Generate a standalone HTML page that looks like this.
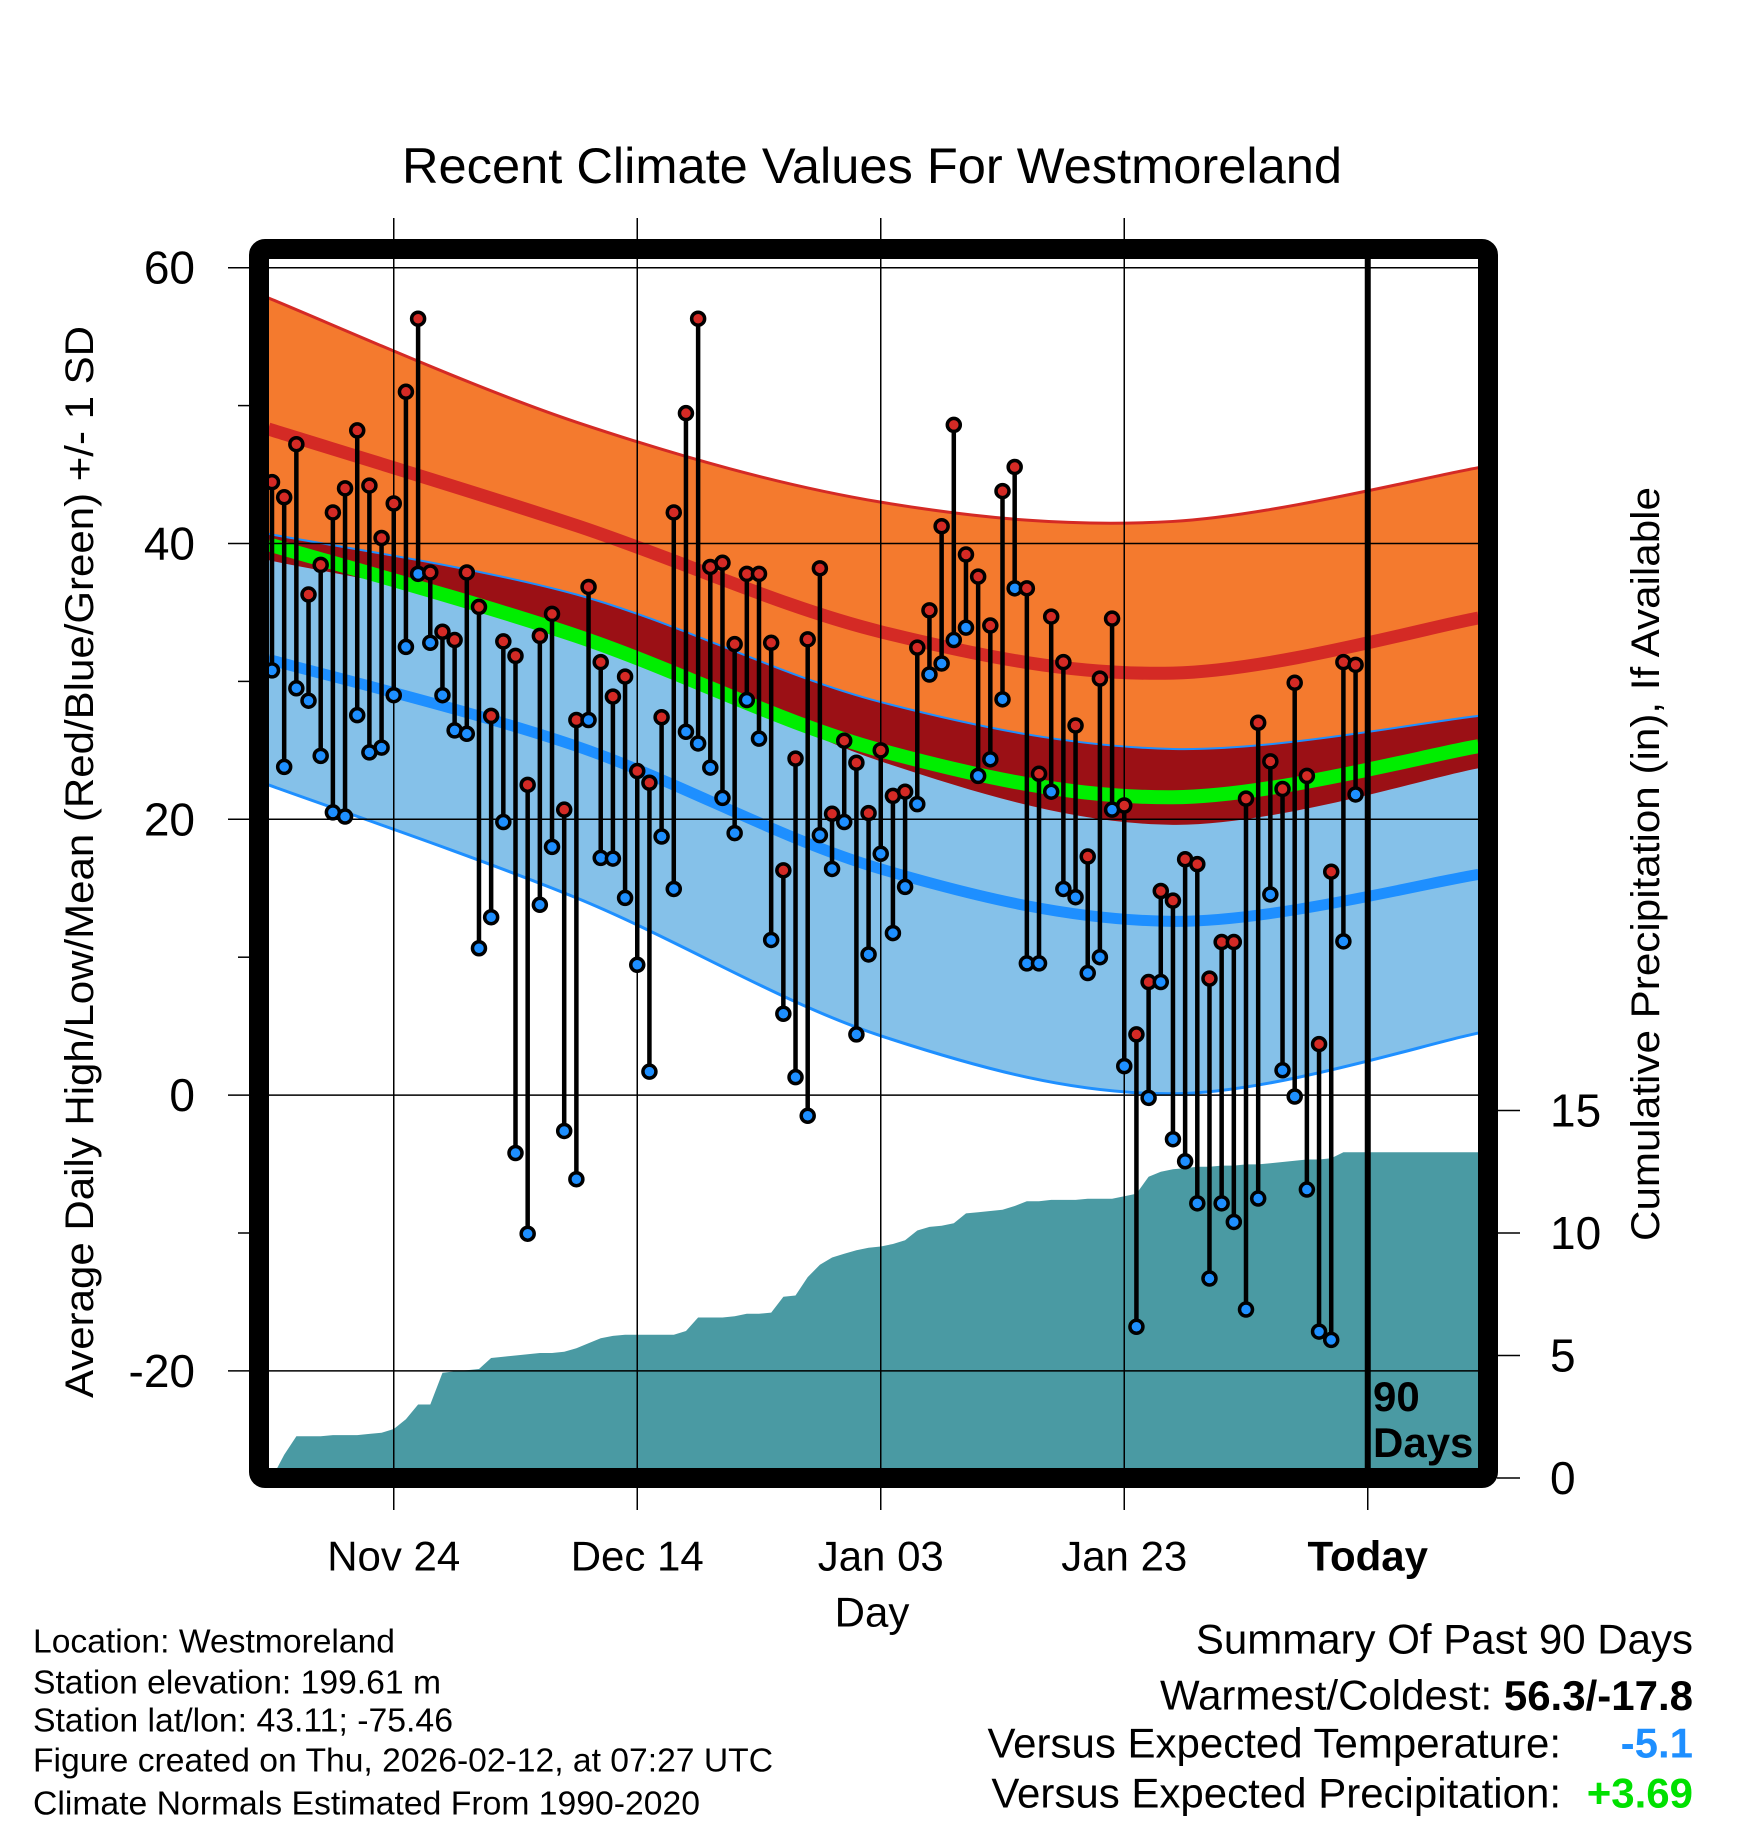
<!DOCTYPE html>
<html><head><meta charset="utf-8"><style>
html,body{margin:0;padding:0;background:#fff}
svg{display:block;font-family:"Liberation Sans",Arial,sans-serif}
</style></head><body>
<svg id="chart" width="1748" height="1828" viewBox="0 0 1748 1828" xmlns="http://www.w3.org/2000/svg">
<defs><clipPath id="plotclip"><rect x="269" y="259" width="1209" height="1209"/></clipPath></defs>
<g id="bands" clip-path="url(#plotclip)"></g>
<g id="precip" clip-path="url(#plotclip)"></g>
<g id="grid"></g>
<g id="marks"></g>
<rect x="259" y="249" width="1229" height="1229" fill="none" stroke="#000" stroke-width="20" rx="6"/>
<g font-weight="bold" font-size="42">
<text x="1373" y="1411">90</text><text x="1373" y="1457">Days</text></g>
<text x="872" y="166" font-size="50" text-anchor="middle" dominant-baseline="central" textLength="940" lengthAdjust="spacingAndGlyphs">Recent Climate Values For Westmoreland</text>
<g id="axes"></g>
<text transform="translate(80,862) rotate(-90)" font-size="40" text-anchor="middle" dominant-baseline="central" textLength="1072" lengthAdjust="spacingAndGlyphs">Average Daily High/Low/Mean (Red/Blue/Green) +/- 1 SD</text>
<text transform="translate(1646,864) rotate(-90)" font-size="40" text-anchor="middle" dominant-baseline="central" textLength="754" lengthAdjust="spacingAndGlyphs">Cumulative Precipitation (in), If Available</text>
<text x="872" y="1612" font-size="42" text-anchor="middle" dominant-baseline="central">Day</text>
<g font-size="33">
<text x="33" y="1641" dominant-baseline="central" textLength="362" lengthAdjust="spacingAndGlyphs">Location: Westmoreland</text>
<text x="33" y="1682" dominant-baseline="central" textLength="408" lengthAdjust="spacingAndGlyphs">Station elevation: 199.61 m</text>
<text x="33" y="1720" dominant-baseline="central" textLength="420" lengthAdjust="spacingAndGlyphs">Station lat/lon: 43.11; -75.46</text>
<text x="33" y="1760" dominant-baseline="central" textLength="740" lengthAdjust="spacingAndGlyphs">Figure created on Thu, 2026-02-12, at 07:27 UTC</text>
<text x="33" y="1803" dominant-baseline="central" textLength="667" lengthAdjust="spacingAndGlyphs">Climate Normals Estimated From 1990-2020</text>
</g>
<g font-size="42">
<text x="1693" y="1639" text-anchor="end" dominant-baseline="central">Summary Of Past 90 Days</text>
<text x="1693" y="1695" text-anchor="end" dominant-baseline="central">Warmest/Coldest: <tspan font-weight="bold">56.3/-17.8</tspan></text>
<text x="1561" y="1743" text-anchor="end" dominant-baseline="central">Versus Expected Temperature:</text>
<text x="1693" y="1743" text-anchor="end" dominant-baseline="central" font-weight="bold" fill="#1e8fff">-5.1</text>
<text x="1561" y="1793" text-anchor="end" dominant-baseline="central">Versus Expected Precipitation:</text>
<text x="1693" y="1793" text-anchor="end" dominant-baseline="central" font-weight="bold" fill="#00e000">+3.69</text>
</g>
</svg>
<script>
const highs=[44.45,43.35,47.2,36.3,38.45,42.25,44.0,48.2,44.2,40.4,42.9,51.0,56.3,37.9,33.6,33.0,37.9,35.4,27.5,32.9,31.85,22.5,33.3,34.9,20.7,27.2,36.85,31.4,28.9,30.35,23.5,22.65,27.4,42.25,49.45,56.3,38.3,38.6,32.7,37.8,37.8,32.8,16.3,24.4,33.05,38.2,20.4,25.7,24.1,20.45,25.0,21.7,22.0,32.45,35.15,41.25,48.6,39.2,37.6,34.05,43.8,45.55,36.75,23.3,34.7,31.4,26.8,17.3,30.2,34.55,21.0,4.4,8.2,14.8,14.1,17.1,16.75,8.45,11.1,11.1,21.5,27.0,24.2,22.2,29.9,23.15,3.7,16.2,31.4,31.2];
const lows=[30.8,23.8,29.5,28.6,24.6,20.5,20.2,27.55,24.85,25.2,29.0,32.5,37.8,32.8,29.0,26.45,26.2,10.65,12.9,19.8,-4.2,-10.05,13.8,18.0,-2.6,-6.1,27.2,17.2,17.15,14.3,9.45,1.7,18.75,14.95,26.35,25.5,23.75,21.55,19.0,28.65,25.85,11.25,5.9,1.3,-1.5,18.85,16.4,19.8,4.4,10.2,17.5,11.75,15.1,21.1,30.5,31.3,33.0,33.9,23.15,24.35,28.7,36.75,9.55,9.55,22.0,14.95,14.35,8.85,10.0,20.7,2.1,-16.8,-0.2,8.2,-3.2,-4.8,-7.85,-13.3,-7.85,-9.2,-15.55,-7.5,14.55,1.8,-0.1,-6.85,-17.15,-17.75,11.15,21.8];
const precip=[0,0.95,1.7,1.7,1.7,1.75,1.75,1.75,1.8,1.85,2.0,2.4,3.0,3.0,4.3,4.35,4.4,4.45,4.9,4.95,5.0,5.05,5.1,5.1,5.15,5.3,5.5,5.7,5.8,5.85,5.85,5.85,5.85,5.85,6.0,6.55,6.55,6.55,6.6,6.7,6.7,6.75,7.4,7.45,8.2,8.7,9.0,9.15,9.3,9.4,9.45,9.55,9.7,10.1,10.25,10.3,10.4,10.8,10.85,10.9,10.95,11.1,11.3,11.3,11.35,11.35,11.35,11.4,11.4,11.4,11.5,11.6,12.3,12.5,12.6,12.65,12.7,12.7,12.75,12.75,12.8,12.8,12.85,12.9,12.95,13.0,13.0,13.05,13.3,13.3];
const normDays=[-0.3,25,50,74,99.1];
const highMean=[48.3,41.3,33.6,30.6,34.6];
const highUpper=[57.8,48.8,43.0,41.6,45.5];
const lowMean=[31.6,25.3,16.4,12.6,16.0];
const lowLower=[22.5,14.3,4.3,0.1,4.5];
const xTickDays=[10,30,50,70,90];
const xTickLabels=["Nov 24","Dec 14","Jan 03","Jan 23","Today"];
const yTicks=[60,40,20,0,-20];
const yMinor=[50,30,10,-10];
const pTicks=[0,5,10,15];

const NS="http://www.w3.org/2000/svg";
const xS=d=>272+12.175*d;
const yT=v=>267.7+(60-v)*13.79;
const yP=p=>1478-p*24.5;
function mk(tag,attrs,parent){const e=document.createElementNS(NS,tag);for(const k in attrs)e.setAttribute(k,attrs[k]);parent.appendChild(e);return e;}
function pts(vals){return normDays.map((d,i)=>[xS(d),yT(vals[i])]);}
function crPath(p,move){let s=(move?"M":"L")+p[0][0].toFixed(1)+","+p[0][1].toFixed(1);
 for(let i=0;i<p.length-1;i++){const p0=p[Math.max(0,i-1)],p1=p[i],p2=p[i+1],p3=p[Math.min(p.length-1,i+2)];
 const c1=[p1[0]+(p2[0]-p0[0])/6,p1[1]+(p2[1]-p0[1])/6],c2=[p2[0]-(p3[0]-p1[0])/6,p2[1]-(p3[1]-p1[1])/6];
 s+="C"+c1.join(",")+" "+c2.join(",")+" "+p2.join(",");}return s;}
function band(up,lo){return crPath(pts(up),true)+crPath(pts(lo).reverse(),false)+"Z";}
const highLower=highMean.map((m,i)=>2*m-highUpper[i]);
const lowUpper=lowMean.map((m,i)=>2*m-lowLower[i]);
const avg=highMean.map((h,i)=>(h+lowMean[i])/2);

const B=document.getElementById('bands');
const defs=document.querySelector('defs');
const cp=mk('clipPath',{id:'highclip'},defs);
mk('path',{d:band(highUpper,highLower)},cp);
let e;
e=mk('path',{d:band(highUpper,highLower),fill:'#f47a2e'},B);


e=mk('path',{d:band(lowUpper,lowLower),fill:'#85c1e9'},B);


e=mk('path',{d:band(lowUpper,lowLower),fill:'#9b1015','clip-path':'url(#highclip)'},B);


e=mk('path',{d:crPath(pts(highUpper),true),fill:'none',stroke:'#d42a25','stroke-width':3},B);


e=mk('path',{d:crPath(pts(lowUpper),true),fill:'none',stroke:'#1e8fff','stroke-width':2},B);


e=mk('path',{d:crPath(pts(lowLower),true),fill:'none',stroke:'#1e8fff','stroke-width':3},B);


e=mk('path',{d:crPath(pts(highMean),true),fill:'none',stroke:'#d42a25','stroke-width':13},B);


e=mk('path',{d:crPath(pts(lowMean),true),fill:'none',stroke:'#1e8fff','stroke-width':11},B);


e=mk('path',{d:crPath(pts(avg),true),fill:'none',stroke:'#00ee00','stroke-width':14},B);



const P=document.getElementById('precip');
let pd="M"+xS(0)+","+yP(0);
precip.forEach((v,i)=>{pd+="L"+xS(i).toFixed(1)+","+yP(v).toFixed(1);});
pd+="L1478,"+yP(precip[precip.length-1]).toFixed(1)+"L1478,"+yP(0)+"Z";
e=mk('path',{d:pd,fill:'#4a9aa3'},P);



const G=document.getElementById('grid');
const A=document.getElementById('axes');
yTicks.forEach(v=>{
 e=mk('line',{x1:228,x2:1478,y1:yT(v),y2:yT(v),stroke:'#000','stroke-width':1.5},G);
 
 
 e=mk('text',{x:195,y:yT(v),'font-size':46,'text-anchor':'end','dominant-baseline':'central'},A);
 e.textContent=v;
 
 
});
yMinor.forEach(v=>{
 e=mk('line',{x1:238,x2:250,y1:yT(v),y2:yT(v),stroke:'#000','stroke-width':1.5},A);
 
 
});
pTicks.forEach(v=>{
 e=mk('line',{x1:1497,x2:1520,y1:yP(v),y2:yP(v),stroke:'#000','stroke-width':1.5},A);
 
 
 e=mk('text',{x:1550,y:yP(v),'font-size':46,'dominant-baseline':'central'},A);
 e.textContent=v;
 
 
});
xTickDays.forEach((d,i)=>{
 const today=xTickLabels[i]==="Today";
 if(!today){
  e=mk('line',{x1:xS(d),x2:xS(d),y1:218,y2:1468,stroke:'#000','stroke-width':1.5},G);
  
  
 }
 e=mk('line',{x1:xS(d),x2:xS(d),y1:1485,y2:1510,stroke:'#000','stroke-width':1.5},A);
 
 
 e=mk('text',{x:xS(d),y:1556,'font-size':42,'text-anchor':'middle','dominant-baseline':'central','font-weight':today?'bold':'normal'},A);
 e.textContent=xTickLabels[i];
 
 
});

const M=document.getElementById('marks');
highs.forEach((h,i)=>{
 const x=xS(i);
 e=mk('line',{x1:x,x2:x,y1:yT(h),y2:yT(lows[i]),stroke:'#000','stroke-width':4.5},M);
 
 
});
highs.forEach((h,i)=>{
 const x=xS(i);
 e=mk('circle',{cx:x,cy:yT(lows[i]),r:6.5,fill:'#1e8fff',stroke:'#000','stroke-width':3.5},M);
 
 
 e=mk('circle',{cx:x,cy:yT(h),r:6.5,fill:'#d42a25',stroke:'#000','stroke-width':3.5},M);
 
 
});
e=mk('line',{x1:xS(90),x2:xS(90),y1:243,y2:1468,stroke:'#000','stroke-width':6},M);


</script>
</body></html>
